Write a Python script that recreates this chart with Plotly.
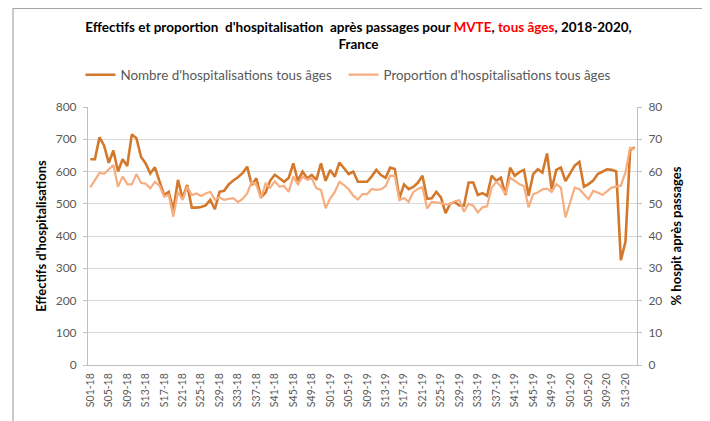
import plotly.graph_objects as go

# ---- data ----
years = ["18", "19", "20"]
weeks_per_year = [52, 52, 15]
weeks = []
for y, n in zip(years, weeks_per_year):
    for w in range(1, n + 1):
        weeks.append(f"S{w:02d}-{y}")

tick_labels = weeks[::4]

nb_hosp = [638, 638, 706, 680, 627, 665, 600, 638, 617, 715,
           703, 645, 625, 594, 613, 568, 527, 537, 480, 574,
           517, 558, 488, 488, 490, 495, 512, 483, 537, 540,
           560, 572, 582, 595, 615, 558, 579, 520, 535, 572,
           590, 579, 568, 580, 625, 571, 600, 579, 589, 574,
           625, 571, 605, 584, 628, 610, 592, 600, 568, 568,
           568, 585, 605, 589, 580, 612, 608, 517, 560, 545,
           552, 565, 587, 515, 517, 537, 520, 471, 500, 505,
           495, 494, 566, 566, 527, 533, 525, 587, 571, 581,
           527, 612, 587, 598, 605, 525, 592, 607, 597, 656,
           545, 605, 612, 570, 592, 618, 630, 553, 561, 572,
           592, 600, 607, 605, 600, 325, 382, 665, 675]

prop_hosp = [55.1, 57.4, 59.6, 59.3, 60.5, 62.0, 55.3, 58.4, 56.1, 56.0,
             59.2, 56.5, 56.2, 54.8, 56.8, 55.6, 52.2, 52.7, 46.0, 53.7,
             51.2, 55.3, 52.7, 53.2, 52.4, 53.2, 53.7, 51.2, 52.0, 51.2,
             51.5, 51.7, 50.5, 51.5, 53.2, 56.8, 55.8, 51.7, 56.3, 55.0,
             57.0, 55.3, 55.5, 53.7, 58.4, 56.0, 58.4, 57.4, 57.9, 54.8,
             54.3, 48.6, 51.7, 53.7, 56.8, 55.8, 54.5, 52.5, 51.3, 53.0,
             53.0, 54.6, 54.3, 54.5, 55.4, 58.7, 58.6, 51.1, 51.8, 50.6,
             53.6, 54.6, 55.2, 48.5, 50.6, 50.5, 50.2, 49.8, 49.9, 50.8,
             51.1, 47.5, 50.0, 49.4, 47.3, 48.9, 49.2, 55.0, 56.8, 55.4,
             53.0, 58.1, 57.1, 56.1, 55.4, 48.9, 53.0, 53.5, 54.5, 54.7,
             53.7, 56.1, 55.0, 45.8, 50.4, 55.0, 54.5, 53.0, 51.4, 54.0,
             53.5, 52.7, 54.0, 55.0, 55.3, 55.6, 59.7, 67.4, 66.9]

left_ticks = list(range(0, 801, 100))
right_ticks = list(range(0, 81, 10))

# ---- styles ----
DARK = "#D4782C"
LIGHT = "#F6AE80"
FONT = "Lato, Open Sans, sans-serif"
TXT = "#595959"

fig = go.Figure()
fig.add_trace(go.Scatter(
    x=weeks, y=prop_hosp, mode="lines", name="Proportion d'hospitalisations tous âges",
    line=dict(color=LIGHT, width=2.2), yaxis="y2", legend="legend2"))
fig.add_trace(go.Scatter(
    x=weeks, y=nb_hosp, mode="lines", name="Nombre d'hospitalisations tous âges",
    line=dict(color=DARK, width=2.6), yaxis="y", legend="legend"))

title_txt = ("<b>Effectifs et proportion  d'hospitalisation  après passages pour "
             "<span style='color:#FF0000'>MVTE</span>, "
             "<span style='color:#FF0000'>tous âges</span>, 2018-2020,<br>France</b>")

legend_common = dict(orientation="h", xanchor="left", y=1.124, yanchor="middle",
                     font=dict(family=FONT, size=13.4, color=TXT),
                     bgcolor="rgba(0,0,0,0)")

fig.update_layout(
    width=702, height=413,
    margin=dict(l=80, r=73, t=99, b=56),
    paper_bgcolor="white", plot_bgcolor="white",
    font=dict(family=FONT, size=12, color=TXT),
    title=dict(text=title_txt, x=0.4993, xanchor="center", y=0.943, yanchor="top",
               font=dict(family=FONT, size=13.5, color="#000000")),
    showlegend=True,
    legend=dict(x=-0.0137, **legend_common),
    legend2=dict(x=0.4654, **legend_common),
    xaxis=dict(type="category", categoryorder="array", categoryarray=weeks,
               range=[-0.5, len(weeks) - 0.5],
               tickmode="array", tickvals=tick_labels, ticktext=tick_labels,
               tickangle=-90, tickfont=dict(size=10.5, color=TXT),
               ticklabelstandoff=3,
               showgrid=False, showline=True, linecolor="#BFBFBF", linewidth=1,
               ticks="", zeroline=False),
    yaxis=dict(range=[0, 800], tickvals=left_ticks, showgrid=True, gridcolor="#D9D9D9",
               gridwidth=1, showline=True, linecolor="#BFBFBF", ticks="outside",
               ticklen=4, tickcolor="#BFBFBF", zeroline=False, ticklabelstandoff=4,
               tickfont=dict(size=12, color=TXT),
               title=dict(text="<b>Effectifs d'hospitalisations</b>", standoff=6,
                          font=dict(size=13, color="#000000"))),
    yaxis2=dict(range=[0, 80], tickvals=right_ticks, overlaying="y", side="right",
                showgrid=False, showline=True, linecolor="#BFBFBF", ticks="outside",
                ticklen=4, tickcolor="#BFBFBF", zeroline=False, ticklabelstandoff=4,
                tickfont=dict(size=12, color=TXT),
                title=dict(text="<b>% hospit après passages</b>", standoff=10,
                           font=dict(size=13, color="#000000"))),
)

# outer chart frame
fig.add_shape(type="rect", xref="paper", yref="paper",
              x0=-0.1366, x1=1.1202, y0=-0.25, y1=1.382,
              line=dict(color="#A6A6A6", width=1.2), fillcolor="rgba(0,0,0,0)", layer="below")

fig.write_html("out.html")
